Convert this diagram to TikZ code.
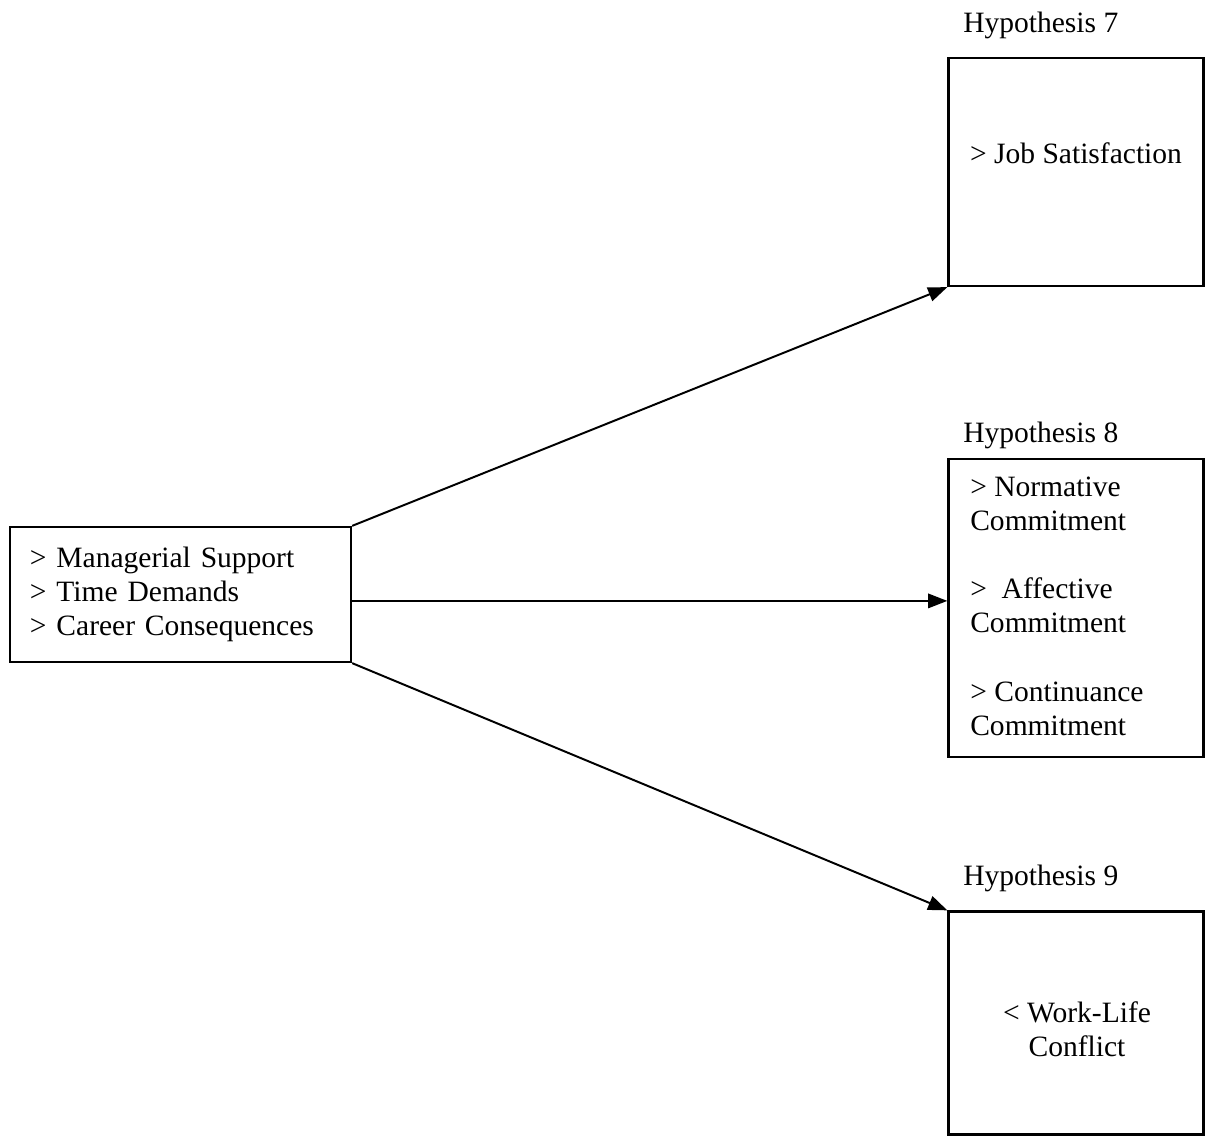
\documentclass[tikz,border=0pt]{standalone}
\usepackage{fontspec}
\setmainfont{Liberation Serif}
\usepackage{tikz}
\usetikzlibrary{arrows.meta,positioning}

\begin{document}
\begin{tikzpicture}[
    x=0.025cm, y=-0.025cm,
    hbox/.style={rectangle, draw=black, line width=1.6pt, inner sep=0pt,
        minimum width=6.375cm},
    htext/.style={font=\fontsize{21}{24.2}\selectfont, inner sep=0pt},
    hlink/.style={-{Triangle[length=0.48cm,width=0.36cm]}, line width=1.4pt},
]
\useasboundingbox (0,0) rectangle (1205,1137);

% predictors
\node[hbox, minimum width=8.525cm, minimum height=3.375cm, text width=7.525cm,
    inner xsep=0.5cm, align=left, htext] (src) at (180.5,594.5)
    {> Managerial Support\\> Time Demands\\> Career Consequences};

% outcome boxes
\node[hbox, minimum height=5.7cm] (h7) at (1076,172) {};
\node[hbox, minimum height=7.45cm] (h8) at (1076,608) {};
\node[hbox, minimum height=5.575cm] (h9) at (1076,1023) {};

% titles
\node[htext, anchor=base west] (lab7) at (963,33) {Hypothesis 7};
\node[htext, anchor=base west] (lab8) at (963,442) {Hypothesis 8};
\node[htext, anchor=base west] (lab9) at (963,885) {Hypothesis 9};

% box contents
\node[htext, anchor=base] (t7) at (1076,163) {> Job Satisfaction};
\node[htext, anchor=north west, align=left] (t8) at (970,477)
    {> Normative\\Commitment\\[24.2pt]> ~Affective\\Commitment\\[24.2pt]> Continuance\\Commitment};
\node[htext, align=center] (t9) at (1077,1029) {< Work-Life\\Conflict};

% links
\draw[hlink] (src.north east) -- (h7.south west);
\draw[hlink] ([yshift=-0.16cm]src.east) -- ([yshift=-0.16cm]src.east -| h8.west);
\draw[hlink] (src.south east) -- (h9.north west);
\end{tikzpicture}
\end{document}
